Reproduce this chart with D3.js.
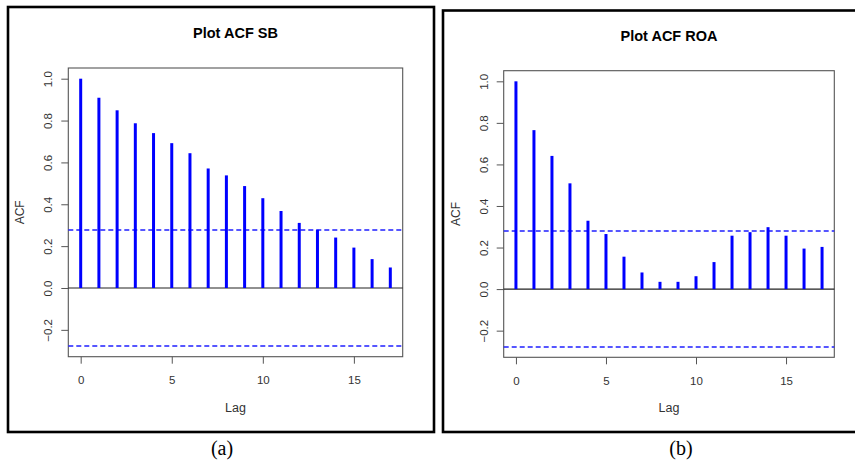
<!DOCTYPE html>
<html>
<head>
<meta charset="utf-8">
<script src="https://cdn.jsdelivr.net/npm/d3@7"></script>
<style>
  html, body { margin: 0; padding: 0; background: #fff; }
  svg { display: block; }
</style>
</head>
<body>
<svg id="chart" width="855" height="462"></svg>
<script>
// Autocorrelation estimates by lag (lags 0..17)
const lags = d3.range(0, 18);
const acfSB = [1.000, 0.909, 0.849, 0.787, 0.740, 0.692, 0.644, 0.571, 0.538,
               0.487, 0.429, 0.368, 0.311, 0.278, 0.241, 0.193, 0.138, 0.098];
const acfROA = [1.000, 0.765, 0.641, 0.509, 0.329, 0.265, 0.156, 0.080, 0.035,
                0.035, 0.062, 0.130, 0.257, 0.274, 0.298, 0.257, 0.195, 0.203];
const nObs = 50;                        // series length, sets the confidence band
const xTicks = [0, 5, 10, 15];
const yTicks = [-0.2, 0.0, 0.2, 0.4, 0.6, 0.8, 1.0];
const titles = ["Plot ACF SB", "Plot ACF ROA"];
const captions = ["(a)", "(b)"];

const svg = d3.select("#chart");
const clim = 1.96 / Math.sqrt(nObs);

// R-style axis range: data range padded by 4% each side
function padded(lo, hi) {
  const d = (hi - lo) * 0.04;
  return [lo - d, hi + d];
}

function drawPanel(opts) {
  const { frame, plot, values, title, caption } = opts;
  const g = svg.append("g");

  // outer frame around the panel
  g.append("rect")
    .attr("x", frame.x).attr("y", frame.y)
    .attr("width", frame.w).attr("height", frame.h)
    .attr("fill", "none").attr("stroke", "#000").attr("stroke-width", 2.6);

  const xDom = padded(d3.min(lags), d3.max(lags));
  const yDom = padded(Math.min(-clim, d3.min(values)), Math.max(clim, d3.max(values)));
  const x = d3.scaleLinear().domain(xDom).range([plot.left, plot.right]);
  const y = d3.scaleLinear().domain(yDom).range([plot.bottom, plot.top]);

  // plot box
  g.append("rect")
    .attr("x", plot.left).attr("y", plot.top)
    .attr("width", plot.right - plot.left).attr("height", plot.bottom - plot.top)
    .attr("fill", "none").attr("stroke", "#555").attr("stroke-width", 1.1);

  // axes
  const xAxis = d3.axisBottom(x).tickValues(xTicks).tickSize(7).tickPadding(8)
    .tickFormat(d3.format("d"));
  const gx = g.append("g").attr("transform", `translate(0,${plot.bottom})`).call(xAxis);
  gx.select(".domain").remove();
  gx.selectAll(".tick line").attr("stroke", "#555");
  gx.selectAll(".tick text")
    .attr("fill", "#333").attr("font-family", "Liberation Sans, Arial, sans-serif")
    .attr("font-size", 11.5).attr("dy", null).attr("y", 27.5);

  const yAxis = d3.axisLeft(y).tickValues(yTicks).tickSize(7).tickFormat(d3.format(".1f"));
  const gy = g.append("g").attr("transform", `translate(${plot.left},0)`).call(yAxis);
  gy.select(".domain").remove();
  gy.selectAll(".tick line").attr("stroke", "#555");
  gy.selectAll(".tick text")
    .attr("fill", "#333").attr("font-family", "Liberation Sans, Arial, sans-serif")
    .attr("font-size", 11.5)
    .attr("x", null).attr("dy", null)
    .attr("text-anchor", "middle")
    .attr("transform", "translate(-16,0) rotate(-90)");

  // zero reference line
  g.append("line")
    .attr("x1", plot.left).attr("x2", plot.right)
    .attr("y1", y(0)).attr("y2", y(0))
    .attr("stroke", "#222").attr("stroke-width", 1.1);

  // confidence band
  [clim, -clim].forEach(c => {
    const yc = Math.round(y(c));
    g.append("line")
      .attr("x1", plot.left).attr("x2", plot.right)
      .attr("y1", yc).attr("y2", yc)
      .attr("stroke", "#1f1fff").attr("stroke-width", 1.6)
      .attr("stroke-dasharray", "5,3");
  });

  // ACF spikes
  g.append("g").selectAll("line").data(lags).join("line")
    .attr("x1", d => x(d)).attr("x2", d => x(d))
    .attr("y1", y(0)).attr("y2", (d, i) => y(values[i]))
    .attr("stroke", "#0000ff").attr("stroke-width", 3);

  // titles
  const cx = (plot.left + plot.right) / 2;
  g.append("text").attr("x", cx).attr("y", plot.top - 30)
    .attr("text-anchor", "middle").attr("font-family", "Liberation Sans, Arial, sans-serif")
    .attr("font-weight", "bold").attr("font-size", 14.5).attr("fill", "#000").text(title);
  g.append("text").attr("x", cx).attr("y", plot.bottom + 55)
    .attr("text-anchor", "middle").attr("font-family", "Liberation Sans, Arial, sans-serif")
    .attr("font-size", 12.5).attr("fill", "#333").text("Lag");
  g.append("text")
    .attr("transform", `translate(${plot.left - 44},${(plot.top + plot.bottom) / 2}) rotate(-90)`)
    .attr("text-anchor", "middle").attr("font-family", "Liberation Sans, Arial, sans-serif")
    .attr("font-size", 12).attr("fill", "#333").text("ACF");

  // panel caption
  g.append("text").attr("x", caption.x).attr("y", 455)
    .attr("text-anchor", "middle").attr("font-family", "Liberation Serif, Times New Roman, serif")
    .attr("font-size", 20).attr("fill", "#000").text(caption.text);
}

drawPanel({
  frame: { x: 8, y: 7, w: 426, h: 425 },
  plot: { left: 68.3, right: 402.7, top: 68, bottom: 356.7 },
  values: acfSB, title: titles[0],
  caption: { x: 222, text: captions[0] }
});
drawPanel({
  frame: { x: 443, y: 10.5, w: 420, h: 421.5 },
  plot: { left: 503.7, right: 834.3, top: 70.7, bottom: 357.3 },
  values: acfROA, title: titles[1],
  caption: { x: 681, text: captions[1] }
});
</script>
</body>
</html>
